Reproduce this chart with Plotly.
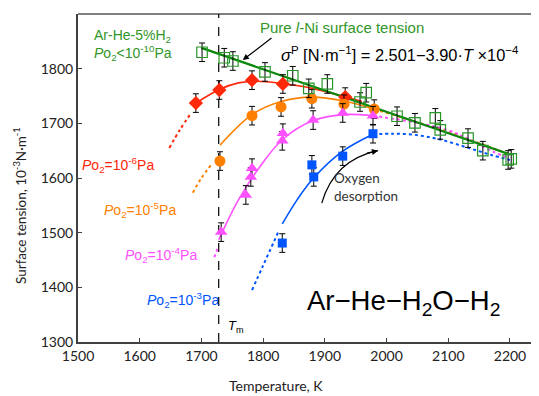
import plotly.graph_objects as go

# ---------------- data ----------------
ERR = 17  # error bar half-width, 10^-3 N/m

# Pure Ni (Ar-He-5%H2)
ni_T = [1701, 1737, 1751, 1803, 1848, 1874, 1904, 1957, 1967, 2017, 2046, 2079, 2087, 2132, 2156, 2197, 2202]
ni_s = [1830, 1820, 1814, 1794, 1787, 1764, 1772, 1739, 1756, 1713, 1701, 1710, 1688, 1673, 1650, 1633, 1635]
ni_fit_T = [1700, 2200]
ni_fit_s = [1838, 1643]   # 2.501 - 3.90e-4 T

# Po2 = 1e-6 Pa (red)
r_T = [1691, 1729, 1782, 1832, 1933]
r_s = [1737, 1761, 1779, 1772, 1748]
r_fit_T = [1691, 1729, 1760, 1790, 1830, 1880, 1935, 1960]
r_fit_s = [1737, 1762, 1774, 1777, 1773, 1764, 1748, 1740]
r_dot_T = [1648, 1665, 1684]
r_dot_s = [1655, 1688, 1720]

# Po2 = 1e-5 Pa (orange)
o_T = [1730, 1782, 1829, 1879, 1931, 1980]
o_s = [1631, 1714, 1730, 1745, 1735, 1726]
o_fit_T = [1730, 1782, 1829, 1879, 1931, 1980]
o_fit_s = [1660, 1716, 1740, 1748, 1741, 1726]
o_dot_T = [1686, 1700, 1717]
o_dot_s = [1573, 1600, 1626]
o_dot2_T = [1980, 2050, 2100, 2200]
o_dot2_s = [1726, 1702, 1684, 1643]

# Po2 = 1e-4 Pa (magenta)
p_T = [1732, 1772, 1780, 1782, 1831, 1832, 1881, 1929, 1978]
p_s = [1501, 1569, 1602, 1618, 1668, 1682, 1706, 1719, 1714]
p_fit_T = [1728, 1760, 1795, 1831, 1881, 1930, 1978]
p_fit_s = [1487, 1560, 1621, 1670, 1705, 1716, 1714]
p_dot_T = [1721, 1727]
p_dot_s = [1455, 1474]
p_dot2_T = [1978, 2049, 2098, 2130, 2173, 2197]
p_dot2_s = [1714, 1701, 1688, 1673, 1648, 1637]

# Po2 = 1e-3 Pa (blue)
b_T = [1831, 1879, 1882, 1929, 1978]
b_s = [1481, 1624, 1602, 1640, 1681]
b_fit_T = [1831, 1855, 1881, 1929, 1978]
b_fit_s = [1516, 1560, 1599, 1649, 1680]
b_dot_T = [1782, 1800, 1824]
b_dot_s = [1395, 1440, 1500]
b_dot2_T = [1978, 2010, 2045, 2085, 2130, 2170, 2200]
b_dot2_s = [1680, 1681, 1679, 1671, 1656, 1642, 1633]

TM = 1728

x_ticks = [1500, 1600, 1700, 1800, 1900, 2000, 2100, 2200]
y_ticks = [1300, 1400, 1500, 1600, 1700, 1800, 1900]

# ---------------- styles ----------------
GREEN = "rgb(10,135,10)"
GREEN_TXT = "rgb(50,150,40)"
RED = "rgb(255,40,10)"
ORANGE = "rgb(255,128,0)"
PINK = "rgb(255,80,255)"
BLUE = "rgb(0,85,255)"
FONT = "Lato, 'Open Sans', sans-serif"
ARIAL = "'Liberation Sans', Arial, sans-serif"

# page offset (body margin 8px) compensated via figure size/margins
W, H = 531, 388
ML, MT, MB = 70, 6, 54

fig = go.Figure()

def line(x, y, color, dash="solid", width=1.6, spline=True):
    fig.add_trace(go.Scatter(
        x=x, y=y, mode="lines", hoverinfo="skip",
        line=dict(color=color, width=width, dash=dash,
                  shape="spline" if spline else "linear"),
        showlegend=False))

# Tm dashed line
fig.add_trace(go.Scatter(x=[TM, TM], y=[1300, 1900], mode="lines",
                         line=dict(color="black", width=1.2, dash="dash"),
                         showlegend=False, hoverinfo="skip"))

# dotted extensions
for x, y, c in [(r_dot_T, r_dot_s, RED), (o_dot_T, o_dot_s, ORANGE), (o_dot2_T, o_dot2_s, ORANGE),
                (p_dot_T, p_dot_s, PINK), (p_dot2_T, p_dot2_s, PINK),
                (b_dot_T, b_dot_s, BLUE), (b_dot2_T, b_dot2_s, BLUE)]:
    line(x, y, c, dash="dot", width=2.0)

# fitted curves
line(r_fit_T, r_fit_s, RED)
line(o_fit_T, o_fit_s, ORANGE)
line(p_fit_T, p_fit_s, PINK)
line(b_fit_T, b_fit_s, BLUE)
line(ni_fit_T, ni_fit_s, GREEN, width=2.2, spline=False)

def pts(x, y, color, symbol, size, lw=0):
    fig.add_trace(go.Scatter(
        x=x, y=y, mode="markers", showlegend=False,
        marker=dict(symbol=symbol, size=size, color=color,
                    line=dict(color=color, width=lw)),
        error_y=dict(type="constant", value=ERR, color="black",
                     thickness=1, width=3)))

pts(r_T, r_s, RED, "diamond", 11)
pts(o_T, o_s, ORANGE, "circle", 11)
pts(p_T, p_s, PINK, "triangle-up", 11)
pts(b_T, b_s, BLUE, "square", 9)
pts(ni_T, ni_s, "rgb(40,150,40)", "square-open", 10.5, lw=1.2)

fig.update_layout(
    width=W, height=H,
    margin=dict(l=ML, r=0, t=MT, b=MB, autoexpand=False),
    paper_bgcolor="white", plot_bgcolor="white",
    xaxis=dict(range=[1500, 2247], tickvals=x_ticks, ticks="inside", ticklen=4,
               tickcolor="#404040", showline=True, linecolor="#404040", linewidth=2,
               mirror=False, showgrid=False, zeroline=False, automargin=False,
               tickfont=dict(family=FONT, size=14, color="#222")),
    yaxis=dict(range=[1300, 1900], tickvals=y_ticks, ticks="inside", ticklen=4,
               tickcolor="#404040", showline=True, linecolor="#404040", linewidth=2,
               showgrid=False, zeroline=False, automargin=False,
               tickfont=dict(family=FONT, size=14, color="#222")),
)

# top frame line
fig.add_shape(type="line", xref="paper", yref="paper", x0=0, x1=1, y0=1, y1=1,
              line=dict(color="black", width=1))

# curved "oxygen desorption" arrow
fig.add_shape(type="path", xref="x", yref="y",
              path="M 1895,1554 Q 1915,1633 1986,1650",
              line=dict(color="black", width=1.2))

def dtxt(x, y, text, color, size, family=ARIAL, xanchor="left", align="left"):
    return dict(x=x, y=y, xref="x", yref="y", showarrow=False, xanchor=xanchor,
                yanchor="middle", align=align, text=text,
                font=dict(color=color, size=size, family=family))

annotations = [
    # arrows
    dict(x=1767, y=1816, ax=1816, ay=1858, xref="x", yref="y", axref="x", ayref="y",
         showarrow=True, arrowhead=2, arrowsize=1, arrowwidth=1.2, arrowcolor="black", text=""),
    dict(x=1986, y=1650, ax=1966, ay=1645, xref="x", yref="y", axref="x", ayref="y",
         showarrow=True, arrowhead=2, arrowsize=1, arrowwidth=1.2, arrowcolor="black", text=""),
    dtxt(1522, 1843, "Ar-He-5%H<sub>2</sub><br><i>P</i>o<sub>2</sub>&lt;10<sup>-10</sup>Pa", GREEN_TXT, 14),
    dtxt(1792, 1876, "Pure <i>l</i>-Ni surface tension", GREEN_TXT, 15),
    dtxt(1826, 1826, "<i>σ</i><sup>P</sup> [N·m<sup>−1</sup>] = 2.501−3.90·<i>T</i> ×10<sup>−4</sup>",
         "black", 16.4),
    dtxt(1503, 1624, "<i>P</i>o<sub>2</sub>=10<sup>-6</sup>Pa", RED, 14),
    dtxt(1539, 1542, "<i>P</i>o<sub>2</sub>=10<sup>-5</sup>Pa", ORANGE, 14),
    dtxt(1573, 1459, "<i>P</i>o<sub>2</sub>=10<sup>-4</sup>Pa", PINK, 14),
    dtxt(1609, 1377, "<i>P</i>o<sub>2</sub>=10<sup>-3</sup>Pa", BLUE, 14),
    dtxt(1740, 1328, "<i>T</i><sub>m</sub>", "black", 13),
    dtxt(1912, 1583, "Oxygen<br>desorption", "#333", 13.5, family=FONT),
    dtxt(2027, 1372, "Ar−He−H<sub>2</sub>O−H<sub>2</sub>", "black", 27.5, xanchor="center"),
    # axis titles (page pixel positions, converted below)
    dict(x=276, y=385, xref="paper", yref="paper", showarrow=False,
         xanchor="center", yanchor="middle",
         text="Temperature, K", font=dict(color="#222", size=14, family=FONT)),
    dict(x=20, y=206, xref="paper", yref="paper", showarrow=False,
         xanchor="center", yanchor="middle", textangle=-90,
         text="Surface tension, 10<sup>-3</sup>N·m<sup>-1</sup>", font=dict(color="#222", size=13.5, family=FONT)),
]

# convert page pixel positions to paper coordinates (plot area: page x 78..539, y 14..342)
pa_w = W - ML
pa_h = H - MT - MB
for a in annotations:
    if a.get("xref") == "paper":
        a["x"] = (a["x"] - 78) / pa_w
        a["y"] = 1 - (a["y"] - 14) / pa_h

fig.update_layout(annotations=annotations)

fig.write_html("out.html")
